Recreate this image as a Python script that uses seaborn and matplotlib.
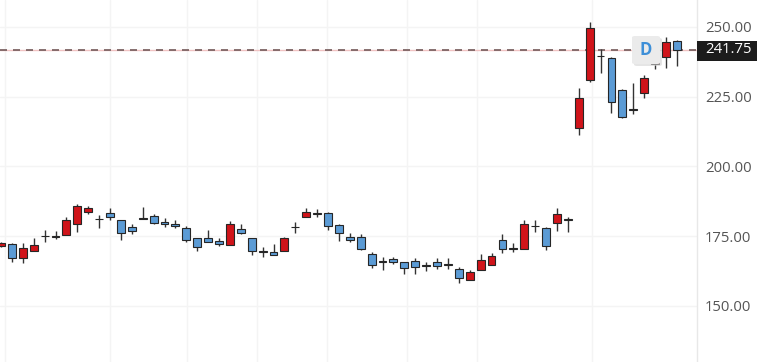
import numpy as np
import pandas as pd
import matplotlib
matplotlib.use("Agg")
import matplotlib.pyplot as plt
import seaborn as sns
from matplotlib.patches import Rectangle, FancyBboxPatch
from matplotlib.transforms import blended_transform_factory

# ---------------- data (daily OHLC) ----------------
opens = [171.5, 172.2, 167.1, 169.7, 174.9, 174.6, 175.4, 179.3, 183.7, 181.0,
         183.3, 180.8, 178.2, 181.4, 182.1, 179.9, 179.3, 177.9, 174.4, 174.4,
         173.3, 171.8, 177.5, 174.4, 169.4, 169.3, 169.7, 178.3, 181.8, 183.3,
         183.2, 178.9, 174.7, 174.7, 168.6, 165.9, 166.8, 165.8, 166.1, 164.4,
         165.8, 164.8, 163.2, 159.4, 162.9, 164.7, 173.6, 170.5, 170.4, 178.7,
         177.9, 179.6, 180.9, 213.8, 231.0, 239.6, 238.8, 227.4, 220.4, 226.3,
         236.5, 239.3, 245.0]
highs = [172.9, 172.6, 172.6, 174.3, 177.2, 176.8, 181.8, 186.5, 185.8, 182.5,
         185.1, 180.9, 179.3, 185.4, 182.9, 181.4, 180.8, 178.6, 174.4, 177.2,
         174.4, 180.4, 179.3, 174.4, 171.2, 172.2, 174.8, 180.0, 185.1, 184.8,
         183.6, 179.3, 176.1, 175.8, 169.2, 167.5, 167.5, 165.8, 167.1, 165.8,
         167.1, 167.1, 164.0, 162.9, 168.6, 169.1, 175.8, 172.6, 180.8, 180.8,
         178.2, 185.1, 181.8, 228.1, 251.7, 242.1, 239.2, 227.6, 229.8, 232.8,
         241.5, 246.4, 245.3]
lows = [171.1, 165.8, 165.4, 169.7, 173.0, 174.0, 175.4, 176.5, 183.0, 177.9,
        180.8, 173.6, 175.8, 181.1, 179.3, 178.2, 177.9, 173.0, 169.7, 173.0,
        171.5, 171.8, 175.8, 168.2, 167.5, 168.3, 169.7, 176.1, 181.8, 181.8,
        177.2, 173.3, 173.0, 170.1, 163.6, 162.9, 165.0, 161.5, 161.5, 162.5,
        163.2, 163.2, 158.3, 159.4, 162.9, 164.7, 169.0, 169.4, 170.4, 176.5,
        170.1, 176.8, 176.5, 211.3, 230.3, 233.5, 219.2, 217.4, 218.8, 224.5,
        234.9, 235.3, 236.0]
closes = [172.6, 167.1, 170.8, 171.8, 175.2, 174.8, 180.8, 185.8, 185.1, 181.2,
          181.8, 176.1, 176.8, 181.3, 179.6, 179.3, 178.6, 173.6, 171.2, 173.0,
          172.2, 179.3, 176.1, 169.7, 169.2, 168.3, 174.4, 178.1, 183.6, 183.1,
          178.6, 176.1, 173.6, 170.4, 164.7, 165.7, 165.8, 163.6, 164.0, 164.2,
          164.3, 164.6, 160.0, 162.2, 166.4, 167.9, 170.4, 170.3, 179.3, 178.5,
          171.5, 182.9, 180.7, 224.5, 249.5, 239.4, 223.1, 217.8, 220.2, 231.7,
          240.0, 244.6, 241.75]

y_ticks = [150, 175, 200, 225, 250]
y_tick_labels = ["150.00", "175.00", "200.00", "225.00", "250.00"]
x_grid = [0.4, 10.0, 17.1, 23.5, 29.9, 37.2, 43.7, 54.2]
last_price = 241.75
last_label = "241.75"
badge_text = "D"

df = pd.DataFrame({"open": opens, "high": highs, "low": lows, "close": closes})
df["idx"] = np.arange(len(df))
df["up"] = df["close"] >= df["open"]

# ---------------- style ----------------
sns.set_theme(style="white")
plt.rcParams["font.family"] = ["Open Sans", "DejaVu Sans"]

RED = "#d0141a"
BLUE = "#5b9bd5"
EDGE = "#262626"
GRID = "#f4f4f4"

W, H, DPI = 773, 362, 100
fig = plt.figure(figsize=(W / DPI, H / DPI), dpi=DPI)
fig.patch.set_facecolor("white")
ax = fig.add_axes([0, 0, 697 / W, 1])
ax.set_facecolor("white")

# grid
for gy in y_ticks:
    ax.axhline(gy, color=GRID, lw=1.0, zorder=0)
for gx in x_grid:
    ax.axvline(gx, color=GRID, lw=1.0, zorder=0)

# wicks
ax.vlines(df["idx"], df["low"], df["high"], color="#333333", lw=1.0, zorder=2)

# bodies
body_bottom = np.minimum(df["open"], df["close"])
body_h = np.maximum(np.abs(df["close"] - df["open"]), 0.3)
colors = [RED if u else BLUE for u in df["up"]]
ax.bar(df["idx"], body_h, bottom=body_bottom, width=0.72, color=colors,
       edgecolor=EDGE, linewidth=0.8, zorder=3)

# last price line
ax.axhline(last_price, color="#f0c2c2", lw=1.0, zorder=1)
ax.axhline(last_price, color="#735a5a", lw=1.2, ls=(0, (4.2, 3.6)), zorder=1)

ax.set_xlim(-0.092, 63.85)
ax.set_ylim(129.9, 259.6)

ax.set_xticks([])
ax.yaxis.tick_right()
ax.set_yticks(y_ticks)
ax.set_yticklabels(y_tick_labels)
ax.tick_params(axis="y", length=0, pad=5.8, labelsize=10.7, colors="#555555")
for s in ["top", "left", "bottom"]:
    ax.spines[s].set_visible(False)
ax.spines["right"].set_color("#e8e8e8")
ax.spines["right"].set_linewidth(1.0)

# last price label box
fig.add_artist(Rectangle((697 / W, 1 - 61 / H), 60 / W, 20 / H,
                         transform=fig.transFigure, facecolor="#1c1c1c",
                         edgecolor="none", zorder=5))
trans = blended_transform_factory(fig.transFigure, ax.transData)
fig.text(705 / W, last_price, last_label, transform=trans, color="white",
         fontsize=10.7, ha="left", va="center", zorder=6)

# "D" badge
fig.add_artist(FancyBboxPatch((634 / W, 1 - 66 / H), 28 / W, 28 / H,
                              boxstyle="round,pad=0,rounding_size=0.004",
                              transform=fig.transFigure, facecolor="#d5d5d5",
                              edgecolor="none", alpha=0.6, zorder=6))
fig.add_artist(FancyBboxPatch((632 / W, 1 - 64 / H), 28 / W, 28 / H,
                              boxstyle="round,pad=0,rounding_size=0.004",
                              transform=fig.transFigure, facecolor="#ebebeb",
                              edgecolor="none", zorder=7))
fig.text(646 / W, 1 - 50 / H, badge_text, color="#3d8fd8", fontsize=12,
         fontweight="bold", ha="center", va="center", zorder=8)

fig.savefig("out.png", dpi=DPI, facecolor="white")
